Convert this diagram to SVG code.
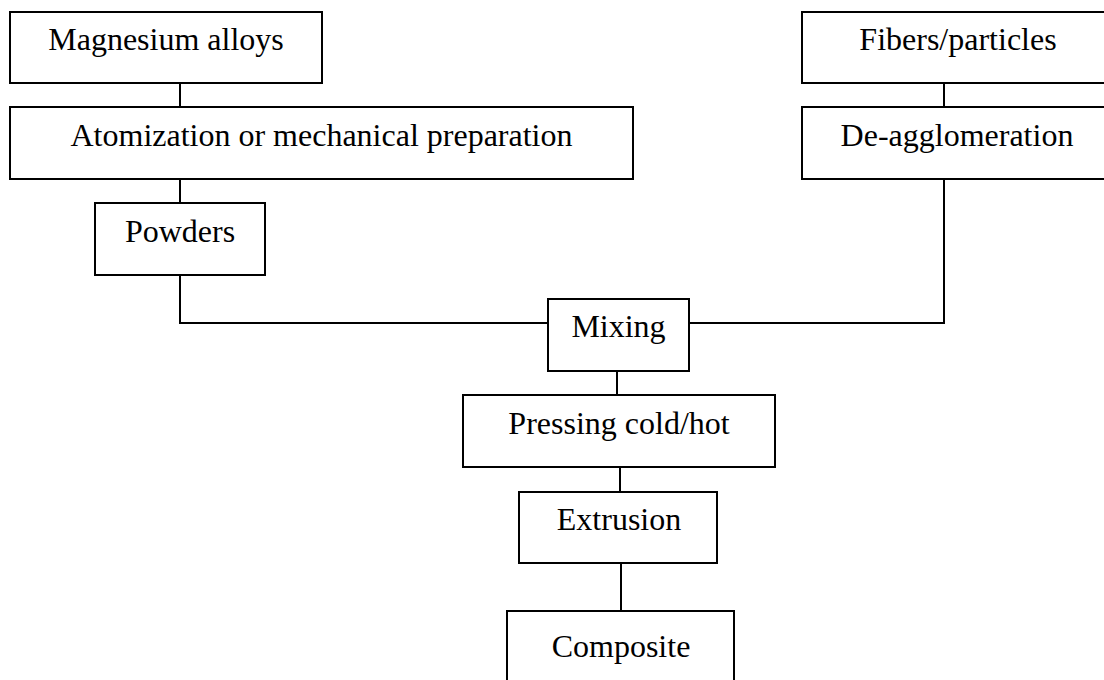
<svg xmlns="http://www.w3.org/2000/svg" width="1104" height="680" viewBox="0 0 1104 680">
<style>
  .box { fill: #ffffff; stroke: #000000; stroke-width: 2; }
  .lbl { font-family: "Liberation Serif", "Times New Roman", serif; font-size: 32px; fill: #000000; text-anchor: middle; }
  .conn { fill: none; stroke: #000000; stroke-width: 2; }
</style>
<rect x="0" y="0" width="1104" height="680" fill="#ffffff"/>
<g id="connectors">
  <path class="conn" d="M180,83 V107"/>
  <path class="conn" d="M180,179 V203"/>
  <path class="conn" d="M180,275 V323 H548"/>
  <path class="conn" d="M944,83 V107"/>
  <path class="conn" d="M944,179 V323 H689"/>
  <path class="conn" d="M617,371 V395"/>
  <path class="conn" d="M620,467 V492"/>
  <path class="conn" d="M621,563 V611"/>
</g>
<g id="magnesium-alloys">
  <rect class="box" x="10" y="12" width="312" height="71"/>
  <text class="lbl" x="166" y="50">Magnesium alloys</text>
</g>
<g id="atomization">
  <rect class="box" x="10" y="107" width="623" height="72"/>
  <text class="lbl" x="321.5" y="146">Atomization or mechanical preparation</text>
</g>
<g id="powders">
  <rect class="box" x="95" y="203" width="170" height="72"/>
  <text class="lbl" x="180" y="242">Powders</text>
</g>
<g id="fibers-particles">
  <rect class="box" x="802" y="12" width="312" height="71"/>
  <text class="lbl" x="958" y="50">Fibers/particles</text>
</g>
<g id="de-agglomeration">
  <rect class="box" x="802" y="107" width="312" height="72"/>
  <text class="lbl" x="957" y="146">De-agglomeration</text>
</g>
<g id="mixing">
  <rect class="box" x="548" y="299" width="141" height="72"/>
  <text class="lbl" x="618.5" y="337">Mixing</text>
</g>
<g id="pressing">
  <rect class="box" x="463" y="395" width="312" height="72"/>
  <text class="lbl" x="619" y="434">Pressing cold/hot</text>
</g>
<g id="extrusion">
  <rect class="box" x="519" y="492" width="198" height="71"/>
  <text class="lbl" x="619" y="530">Extrusion</text>
</g>
<g id="composite">
  <rect class="box" x="507" y="611" width="227" height="90"/>
  <text class="lbl" x="621" y="657">Composite</text>
</g>
</svg>
